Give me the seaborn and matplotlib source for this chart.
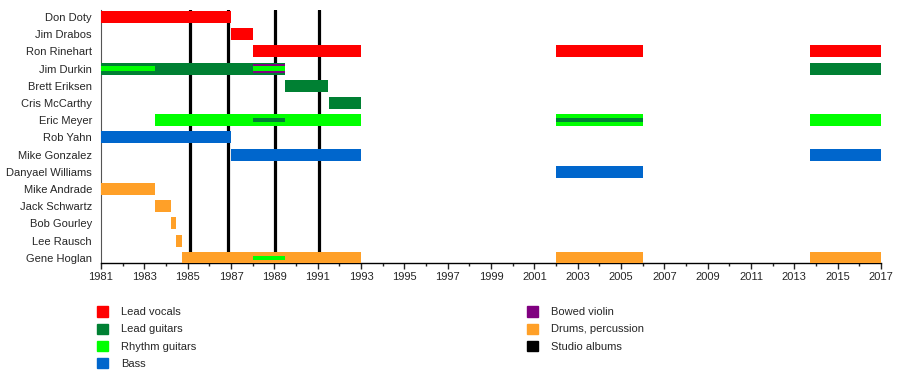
import numpy as np
import matplotlib
matplotlib.use("Agg")
import matplotlib.pyplot as plt
import seaborn as sns
from matplotlib.patches import Patch

# band members, top to bottom
members = ["Don Doty", "Jim Drabos", "Ron Rinehart", "Jim Durkin", "Brett Eriksen",
           "Cris McCarthy", "Eric Meyer", "Rob Yahn", "Mike Gonzalez", "Danyael Williams",
           "Mike Andrade", "Jack Schwartz", "Bob Gourley", "Lee Rausch", "Gene Hoglan"]

# (member, start, end) for each role
lead_vocals = [("Don Doty", 1981, 1987), ("Jim Drabos", 1987, 1988),
               ("Ron Rinehart", 1988, 1993), ("Ron Rinehart", 2002, 2006),
               ("Ron Rinehart", 2013.7, 2017)]
lead_guitars = [("Jim Durkin", 1981, 1989.5), ("Jim Durkin", 2013.7, 2017),
                ("Brett Eriksen", 1989.5, 1991.5), ("Cris McCarthy", 1991.5, 1993)]
rhythm_guitars = [("Eric Meyer", 1983.5, 1993), ("Eric Meyer", 2002, 2006),
                  ("Eric Meyer", 2013.7, 2017)]
bass = [("Rob Yahn", 1981, 1987), ("Mike Gonzalez", 1987, 1993),
        ("Mike Gonzalez", 2013.7, 2017), ("Danyael Williams", 2002, 2006)]
drums = [("Mike Andrade", 1981, 1983.5), ("Jack Schwartz", 1983.5, 1984.25),
         ("Bob Gourley", 1984.25, 1984.45), ("Lee Rausch", 1984.45, 1984.75),
         ("Gene Hoglan", 1984.75, 1993), ("Gene Hoglan", 2002, 2006),
         ("Gene Hoglan", 2013.7, 2017)]

# secondary roles drawn as thin stripes inside the main bars
violin_inner = [("Jim Durkin", 1988, 1989.5)]
rhythm_inner = [("Jim Durkin", 1981, 1983.5), ("Jim Durkin", 1988, 1989.5),
                ("Gene Hoglan", 1988, 1989.5)]
lead_inner = [("Eric Meyer", 1988, 1989.5), ("Eric Meyer", 2002, 2006)]

studio_albums = [1985.1, 1986.85, 1989.05, 1991.08]

colors = {"Lead vocals": "#ff0000", "Lead guitars": "#008033", "Rhythm guitars": "#00ff00",
          "Bass": "#0066cc", "Bowed violin": "#800080", "Drums, percussion": "#ffa028",
          "Studio albums": "#000000"}

sns.set_style("white")
plt.rcParams["font.family"] = ["Liberation Sans", "DejaVu Sans"]

fig = plt.figure(figsize=(9, 3.72), dpi=100)
ax = fig.add_axes([101 / 900, 1 - 262.5 / 372, 780 / 900, 252.5 / 372])


def draw(periods, color, h):
    ys = [members.index(m) for m, s, e in periods]
    ax.barh(ys, [e - s for m, s, e in periods], left=[s for m, s, e in periods],
            height=h, color=color, linewidth=0, zorder=3)


for x in studio_albums:
    ax.axvline(x, color="black", lw=2.3, zorder=2)

draw(lead_vocals, colors["Lead vocals"], 0.7)
draw(lead_guitars, colors["Lead guitars"], 0.7)
draw(rhythm_guitars, colors["Rhythm guitars"], 0.7)
draw(bass, colors["Bass"], 0.7)
draw(drums, colors["Drums, percussion"], 0.7)
draw(violin_inner, colors["Bowed violin"], 0.52)
draw(rhythm_inner, colors["Rhythm guitars"], 0.25)
draw(lead_inner, colors["Lead guitars"], 0.25)

ax.set_xlim(1981, 2017)
ax.set_ylim(14.27, -0.407)
ax.set_yticks(range(len(members)))
ax.set_yticklabels(members)
ax.set_xticks(np.arange(1981, 2018, 2))
ax.set_xticks(np.arange(1981, 2018, 1), minor=True)
ax.tick_params(axis="y", length=0, pad=6.5, labelsize=8)
ax.tick_params(axis="x", which="major", direction="out", length=4, width=1,
               labelsize=8, pad=3, bottom=True)
ax.tick_params(axis="x", which="minor", direction="out", length=2.5, width=1, bottom=True)
for s in ["top", "right"]:
    ax.spines[s].set_visible(False)
ax.spines["left"].set_color("#555555")
ax.spines["left"].set_linewidth(0.8)
ax.spines["bottom"].set_color("black")
ax.spines["bottom"].set_linewidth(1)

left_items = ["Lead vocals", "Lead guitars", "Rhythm guitars", "Bass"]
right_items = ["Bowed violin", "Drums, percussion", "Studio albums"]
for items, x0 in [(left_items, 94 / 900), (right_items, 524 / 900)]:
    fig.legend(handles=[Patch(color=colors[k], label=k) for k in items],
               loc="upper left", bbox_to_anchor=(x0, 1 - 303 / 372), frameon=False,
               fontsize=8, handlelength=0.95, handleheight=1.05, handletextpad=1.15,
               labelspacing=0.56, borderaxespad=0, borderpad=0.3)

fig.savefig("out.png", dpi=100)
